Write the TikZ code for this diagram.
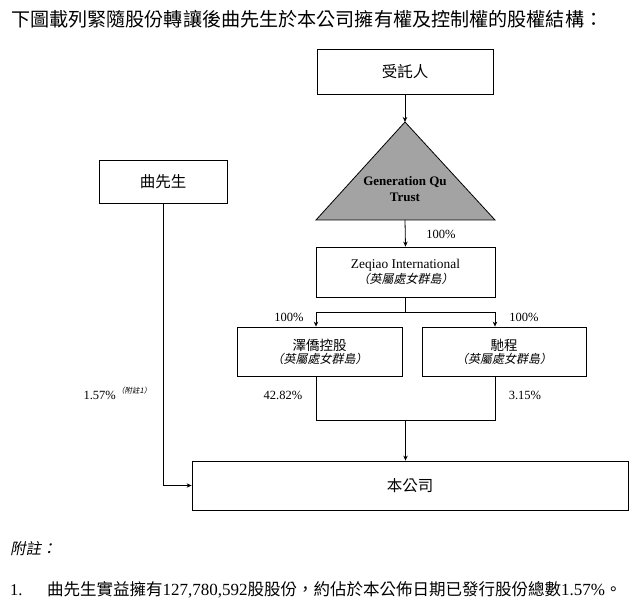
\documentclass[tikz,border=0pt]{standalone}
\usepackage{fontspec}
\setmainfont{Liberation Serif}
\newfontfamily\cjk{Noto Sans CJK TC}
\newfontfamily\cjkit{Noto Sans CJK TC}[FakeSlant=0.2]
\usetikzlibrary{arrows.meta}
\tikzset{
  box/.style={draw, line width=0.8pt, inner sep=0pt, align=center},
  conn/.style={line width=0.8pt},
  arr/.style={line width=0.8pt, -{Stealth[length=5pt,width=4.5pt]}},
  lbl/.style={inner sep=0pt, font=\fontsize{12.5}{14}\selectfont},
}
\begin{document}
\begin{tikzpicture}[x=1pt,y=-1pt]
\useasboundingbox (0,0) rectangle (641,607);
% title
\node[anchor=west, inner sep=0pt, font=\cjk\fontsize{19.1}{21}\selectfont] (title) at (11,19) {下圖載列緊隨股份轉讓後曲先生於本公司擁有權及控制權的股權結構：};
% trustee
\node[box, minimum width=176pt, minimum height=45pt, font=\cjk\fontsize{15.5}{17}\selectfont] (trustee) at (405,71.5) {受託人};
% triangle
\coordinate (apex) at (405,122);
\coordinate (bl) at (316,220);
\coordinate (br) at (495,220);
\coordinate (basemid) at (405,220);
\draw[line width=0.8pt, fill={rgb,255:red,163;green,163;blue,163}] (apex) -- (br) -- (bl) -- cycle;
\node[inner sep=0pt, align=center, font=\bfseries\fontsize{13}{16}\selectfont] (trust) at (405,189) {Generation Qu\\Trust};
% Zeqiao
\node[box, minimum width=179pt, minimum height=50pt] (zeq) at (405.5,272) {\fontsize{13.4}{16}\selectfont Zeqiao International\\[1pt]{\cjkit\fontsize{12}{14}\selectfont （英屬處女群島）}};
% lower boxes
\node[box, minimum width=165pt, minimum height=49pt] (zh) at (319.5,351.5) {{\cjk\fontsize{13.5}{16}\selectfont 澤僑控股}\\[1pt]{\cjkit\fontsize{12}{14}\selectfont （英屬處女群島）}};
\node[box, minimum width=164pt, minimum height=49pt] (cc) at (504,351.5) {{\cjk\fontsize{13.5}{16}\selectfont 馳程}\\[1pt]{\cjkit\fontsize{12}{14}\selectfont （英屬處女群島）}};
% Qu
\node[box, minimum width=128pt, minimum height=43pt, font=\cjk\fontsize{15.5}{17}\selectfont] (qu) at (163,181.5) {曲先生};
% company
\node[box, minimum width=436pt, minimum height=49pt, font=\cjk\fontsize{15.5}{17}\selectfont] (co) at (410,485.5) {本公司};
% connectors
\draw[arr] (trustee.south) -- (apex);
\draw[arr] (basemid) -- (zeq.north);
\coordinate (jl) at (316,312);
\coordinate (jr) at (495,312);
\coordinate (bl2) at (316,420);
\coordinate (br2) at (495,420);
\coordinate (jb) at (405.5,420);
\draw[conn] (zeq.south) -- (zeq.south |- jl);
\draw[conn] (jl) -- (jr);
\draw[arr] (jl) -- (jl |- zh.north);
\draw[arr] (jr) -- (jr |- cc.north);
\draw[conn] (bl2 |- zh.south) -- (bl2) -- (br2) -- (br2 |- cc.south);
\draw[arr] (jb) -- (jb |- co.north);
\draw[arr] (qu.south) |- (co.west);
% labels
\node[lbl] (l1) at (441,234) {100\%};
\node[lbl] (l2) at (289,317) {100\%};
\node[lbl] (l3) at (524,317) {100\%};
\node[lbl] (l4) at (283,395) {42.82\%};
\node[lbl] (l5) at (525,395) {3.15\%};
\node[lbl, anchor=east] (l6) at (116,395) {1.57\%};
\node[inner sep=0pt, anchor=west, font=\cjkit\fontsize{7.5}{8}\selectfont] (l6n) at (117,391) {（附註1）};
% notes
\node[anchor=west, inner sep=0pt, font=\cjkit\fontsize{15.5}{17}\selectfont] (nh) at (10,549) {附註：};
\node[anchor=west, inner sep=0pt, font=\fontsize{16.5}{18}\selectfont] (n1) at (10,590) {1.};
\node[anchor=west, inner sep=0pt, font=\fontsize{17}{19}\selectfont] (n1t) at (47,590) {{\cjk\fontsize{16.5}{19}\selectfont 曲先生實益擁有}127,780,592{\cjk\fontsize{16.5}{19}\selectfont 股股份，約佔於本公佈日期已發行股份總數}1.57\%{\cjk\fontsize{16.5}{19}\selectfont 。}};
\end{tikzpicture}
\end{document}
